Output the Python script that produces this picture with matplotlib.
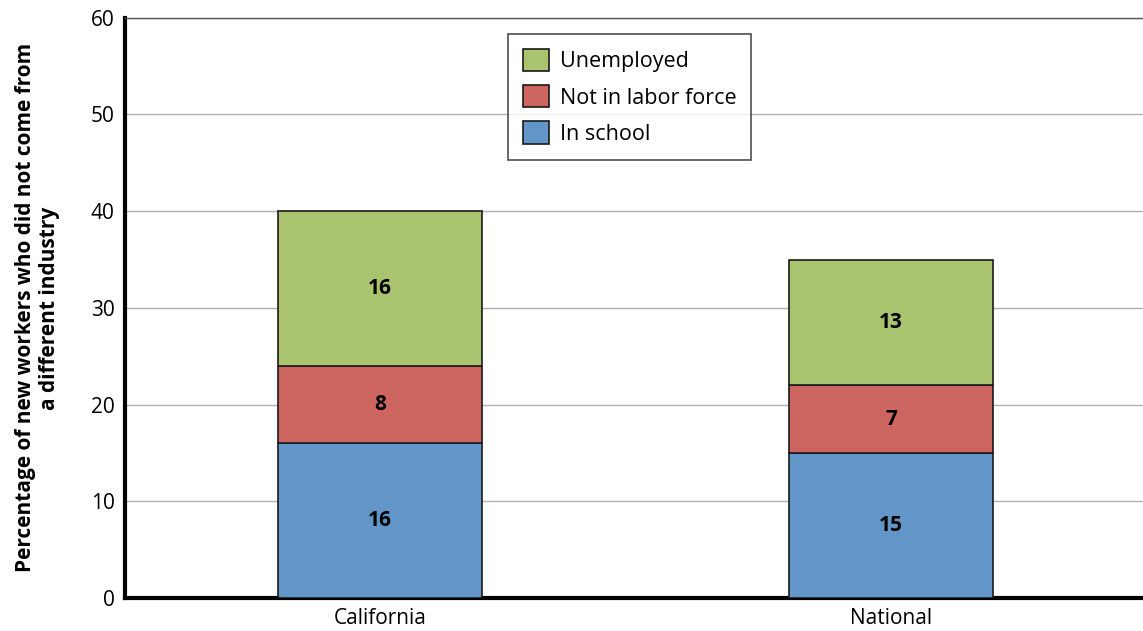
import matplotlib.pyplot as plt
import numpy as np

regions = ['California', 'National']
in_school = [16, 15]
not_in_labor = [8, 7]
unemployed = [16, 13]

series_names = ['In school', 'Not in labor force', 'Unemployed']
series_colors = ['#6296c8', '#cd6660', '#aac36e']

plt.rcParams['font.family'] = ['Open Sans', 'DejaVu Sans']

fig = plt.figure(figsize=(11.43, 6.31), dpi=100)
ax = fig.add_axes([0.109, 0.052, 0.894, 0.920])

x = np.arange(len(regions))
bottom = np.zeros(len(regions))
handles = []
for vals, name, col in zip([in_school, not_in_labor, unemployed], series_names, series_colors):
    bars = ax.bar(x, vals, width=0.4, bottom=bottom, color=col,
                  edgecolor='#1a1a1a', linewidth=1.2, label=name, zorder=3)
    handles.append(bars)
    for xi, b, v in zip(x, bottom, vals):
        ax.text(xi, b + v / 2, str(v), ha='center', va='center',
                fontsize=15, fontweight='bold', color='black', zorder=4)
    bottom = bottom + np.array(vals)

ax.set_xlim(-0.5, 1.5)
ax.set_ylim(0, 60)
ax.set_yticks(range(0, 61, 10))
ax.set_xticks(x)
ax.set_xticklabels(regions)
ax.tick_params(axis='both', length=0, labelsize=15, pad=7)
ax.yaxis.grid(True, color='#b0b0b0', linewidth=1.0, zorder=0)
ax.set_axisbelow(True)

ax.spines['left'].set_linewidth(3)
ax.spines['bottom'].set_linewidth(3)
ax.spines['top'].set_linewidth(1)
ax.spines['top'].set_color('#555555')
ax.spines['right'].set_visible(False)

ax.set_ylabel('Percentage of new workers who did not come from\na different industry',
              fontsize=15, fontweight='bold', labelpad=22, linespacing=1.2)

leg = ax.legend(handles[::-1], series_names[::-1], loc='upper left',
                bbox_to_anchor=(508 / 1143, 1 - 34 / 631), bbox_transform=fig.transFigure,
                fontsize=15.5, frameon=True, fancybox=False, edgecolor='#222222',
                handlelength=1.2, handleheight=1.2, borderpad=0.7, labelspacing=0.6,
                handletextpad=0.5, borderaxespad=0)
leg.get_frame().set_linewidth(1.2)

plt.savefig('out.png', dpi=100)
